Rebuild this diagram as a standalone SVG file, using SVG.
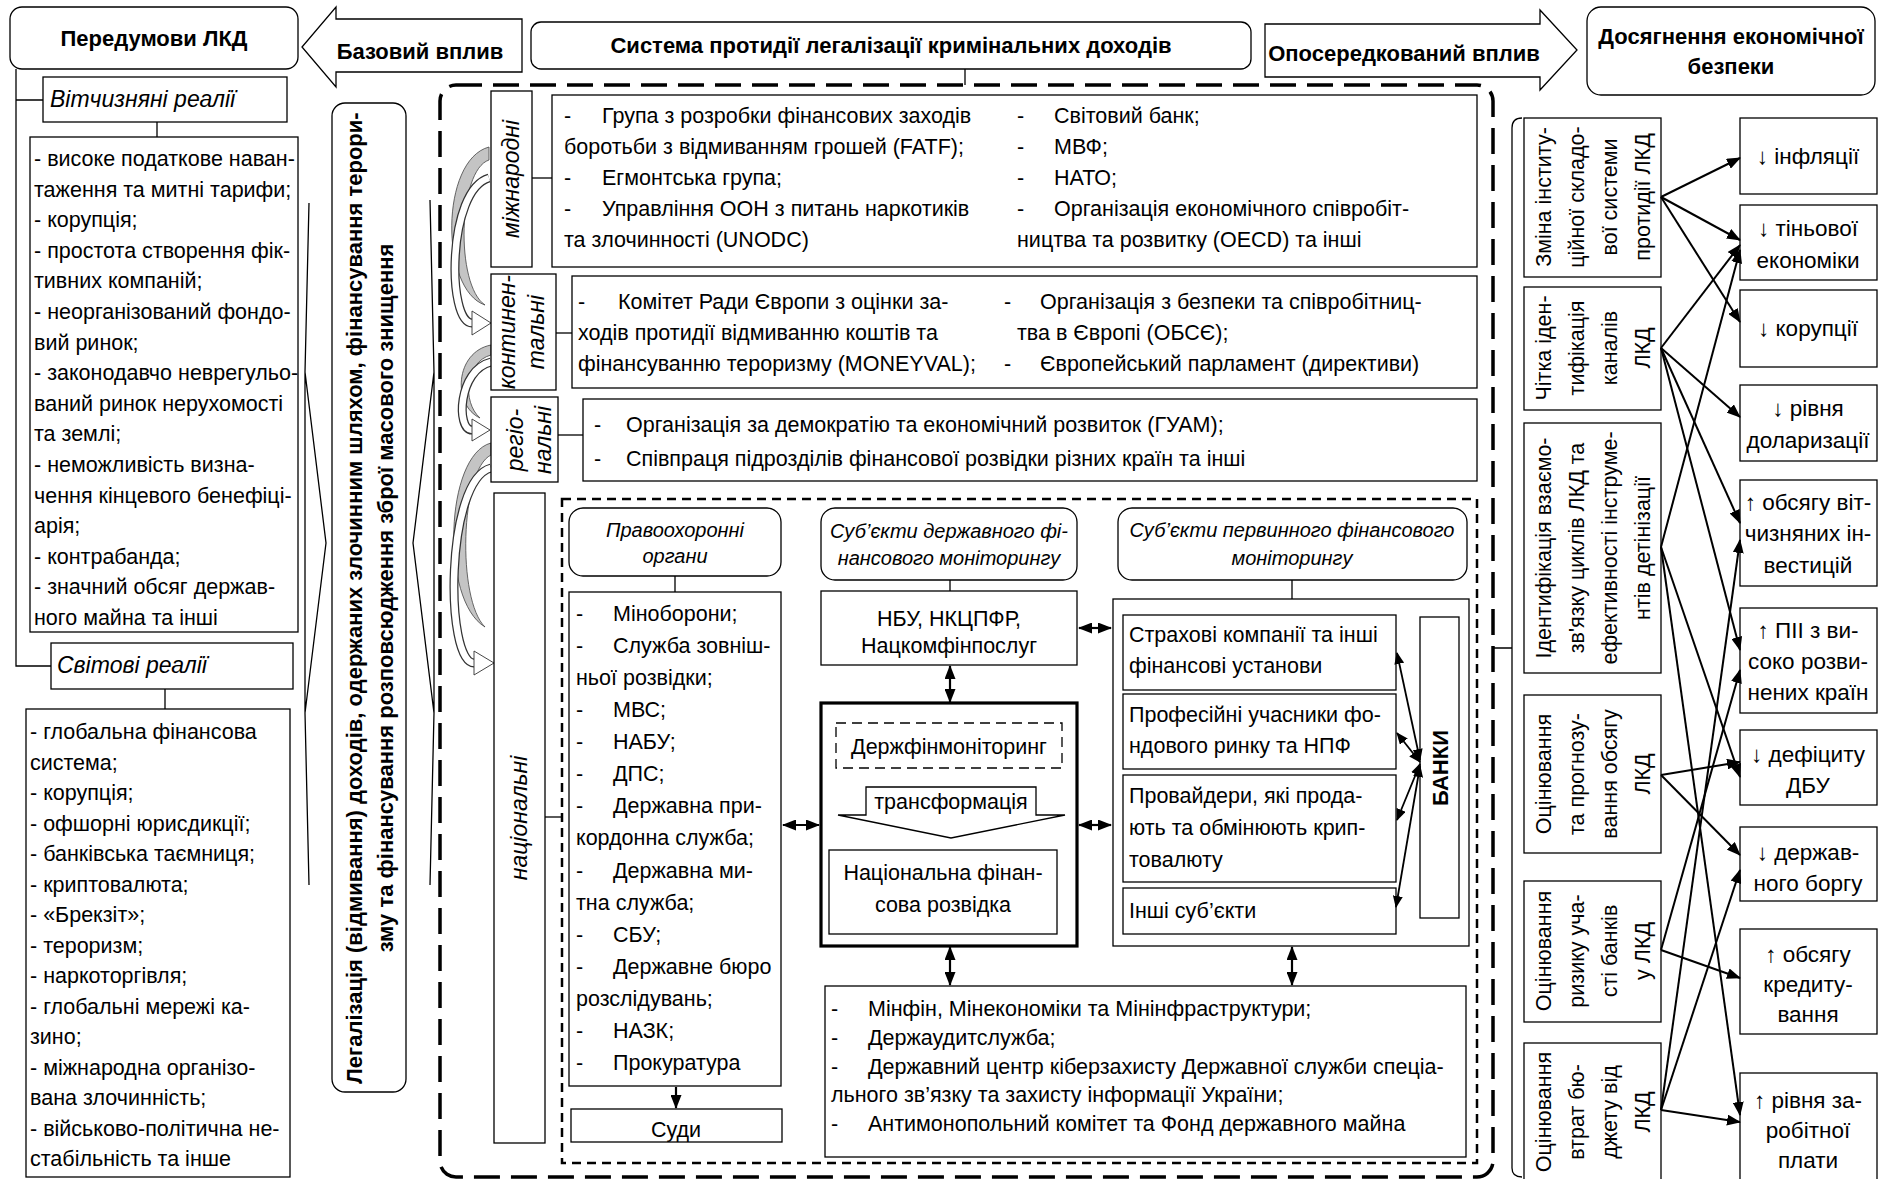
<svg xmlns="http://www.w3.org/2000/svg" width="1881" height="1179" viewBox="0 0 1881 1179">
<defs>
<style>
text{font-family:"Liberation Sans",Arial,sans-serif;font-size:21.5px;fill:#000}
.bd{font-weight:bold;font-size:22px}
.it{font-style:italic}
.c{text-anchor:middle}
.s20{font-size:20px}
.s23{font-size:23px}
.s22{font-size:22.5px}
.bx{fill:#fff;stroke:#000;stroke-width:1.3}
.bx3{fill:#fff;stroke:#000;stroke-width:3.2}
.ln{fill:none;stroke:#000;stroke-width:1.3}
.ar{fill:none;stroke:#000;stroke-width:2.2}
.da{fill:none;stroke:#000;stroke-width:2.5;stroke-dasharray:9 6}
.gr{fill:#c4c4c4;stroke:#444;stroke-width:0.8}
.wa{fill:#fff;stroke:#333;stroke-width:0.9}
</style>
<marker id="ah" viewBox="0 0 14 11" refX="13" refY="5.5" markerWidth="14" markerHeight="11" markerUnits="userSpaceOnUse" orient="auto-start-reverse"><path d="M0,0L14,5.5L0,11z"/></marker>
<marker id="ahs" viewBox="0 0 12 10" refX="11" refY="5" markerWidth="12" markerHeight="10" markerUnits="userSpaceOnUse" orient="auto-start-reverse"><path d="M0,0L12,5L0,10z"/></marker>
</defs>
<rect width="1881" height="1179" fill="#fff"/>

<g id="peredumovy">
<rect class="bx" x="10" y="7" width="288" height="62" rx="12"/>
<text class="bd c" x="154" y="46">Передумови ЛКД</text>
</g>
<g id="bazovyi-vplyv">
<path class="bx" d="M522,19 L336,19 L336,7 L302,47 L336,87 L336,72 L522,72 Z"/>
<text class="bd c" x="420" y="59">Базовий вплив</text>
</g>
<g id="systema">
<rect class="bx" x="531" y="22" width="720" height="47" rx="10"/>
<text class="bd c" x="891" y="53">Система протидії легалізації кримінальних доходів</text>
</g>
<g id="oposeredkovanyi-vplyv">
<path class="bx" d="M1265,24 L1540,24 L1540,10 L1577,50 L1540,90 L1540,77 L1265,77 Z"/>
<text class="bd c" x="1404" y="61">Опосередкований вплив</text>
</g>
<g id="dosiahnennia">
<rect class="bx" x="1587" y="7" width="288" height="88" rx="14"/>
<text class="bd c" x="1731" y="44">Досягнення економічної</text>
<text class="bd c" x="1731" y="74">безпеки</text>
</g>

<g id="left-tree">
<path class="ln" d="M16,69 L16,666 L51,666 M16,100 L43,100 M157,122 L157,137 M165,689 L165,709"/>
</g>
<g id="vitchyzniani">
<rect class="bx" x="43" y="77" width="244" height="45"/>
<text class="it s23" x="50" y="107">Вітчизняні реалії</text>
</g>
<g id="vitchyzniani-list">
<rect class="bx" x="30" y="137" width="268" height="495"/>
<text x="34" y="166">- високе податкове наван-</text>
<text x="34" y="196.6">таження та митні тарифи;</text>
<text x="34" y="227.2">- корупція;</text>
<text x="34" y="257.8">- простота створення фік-</text>
<text x="34" y="288.4">тивних компаній;</text>
<text x="34" y="319">- неорганізований фондо-</text>
<text x="34" y="349.6">вий ринок;</text>
<text x="34" y="380.2">- законодавчо неврегульо-</text>
<text x="34" y="410.8">ваний ринок нерухомості</text>
<text x="34" y="441.4">та землі;</text>
<text x="34" y="472">- неможливість визна-</text>
<text x="34" y="502.6">чення кінцевого бенефіці-</text>
<text x="34" y="533.2">арія;</text>
<text x="34" y="563.8">- контрабанда;</text>
<text x="34" y="594.4">- значний обсяг держав-</text>
<text x="34" y="625">ного майна та інші</text>
</g>
<g id="svitovi">
<rect class="bx" x="51" y="643" width="242" height="46"/>
<text class="it s23" x="57" y="673">Світові реалії</text>
</g>
<g id="svitovi-list">
<rect class="bx" x="26" y="709" width="264" height="468"/>
<text x="30" y="739">- глобальна фінансова</text>
<text x="30" y="769.5">система;</text>
<text x="30" y="800">- корупція;</text>
<text x="30" y="830.5">- офшорні юрисдикції;</text>
<text x="30" y="861">- банківська таємниця;</text>
<text x="30" y="891.5">- криптовалюта;</text>
<text x="30" y="922">- «Брекзіт»;</text>
<text x="30" y="952.5">- тероризм;</text>
<text x="30" y="983">- наркоторгівля;</text>
<text x="30" y="1013.5">- глобальні мережі ка-</text>
<text x="30" y="1044">зино;</text>
<text x="30" y="1074.5">- міжнародна організо-</text>
<text x="30" y="1105">вана злочинність;</text>
<text x="30" y="1135.5">- військово-політична не-</text>
<text x="30" y="1166">стабільність та інше</text>
</g>

<g id="legalizatsiia">
<path class="ln" d="M309,203 L305,372 L305,713 L309,885 M305,372 L326,543 L305,713"/>
<path class="ln" d="M430,200 L434,372 L434,713 L430,885 M434,372 L413,543 L434,713"/>
<rect class="bx" x="332" y="103" width="74" height="989" rx="13"/>
<text class="bd c" transform="translate(362,598) rotate(-90)">Легалізація (відмивання) доходів, одержаних злочинним шляхом, фінансування терори-</text>
<text class="bd c" transform="translate(393,598) rotate(-90)">зму та фінансування розповсюдження зброї масового знищення</text>
</g>

<g id="container">
<rect x="440" y="85" width="1053" height="1092" rx="16" fill="none" stroke="#000" stroke-width="3.5" stroke-dasharray="26 11"/>
<path class="ln" d="M965,69 L965,85"/>
</g>

<g id="curved-arrows">
<path class="gr" d="M489,147 C440,160 440,290 485,305 C455,285 458,170 489,160 Z"/>
<path d="M489,178 C447,190 447,323 472,323" fill="none" stroke="#333" stroke-width="9"/>
<path d="M489,178 C447,190 447,323 472,323" fill="none" stroke="#fff" stroke-width="6.5"/>
<path class="wa" d="M472,311 L491,323 L472,335 Z"/>
<path class="gr" d="M491,345 C455,352 452,405 480,418 C462,402 465,362 491,355 Z"/>
<path d="M491,362 C458,370 456,430 472,430" fill="none" stroke="#333" stroke-width="9"/>
<path d="M491,362 C458,370 456,430 472,430" fill="none" stroke="#fff" stroke-width="6.5"/>
<path class="wa" d="M472,419 L490,430 L472,441 Z"/>
<path class="gr" d="M491,443 C445,455 440,600 485,627 C457,600 460,470 491,455 Z"/>
<path d="M491,468 C445,480 445,663 474,663" fill="none" stroke="#333" stroke-width="9"/>
<path d="M491,468 C445,480 445,663 474,663" fill="none" stroke="#fff" stroke-width="6.5"/>
<path class="wa" d="M474,651 L494,663 L474,675 Z"/>
</g>

<g id="mizhnarodni">
<rect class="bx" x="491" y="91" width="41" height="176"/>
<text class="it s23 c" transform="translate(519,179) rotate(-90)">міжнародні</text>
<path class="ln" d="M532,178 L552,178"/>
</g>
<g id="mizhnarodni-items">
<rect class="bx" x="552" y="95" width="925" height="172"/>
<text x="564" y="123">-</text><text x="602" y="123">Група з розробки фінансових заходів</text>
<text x="564" y="154">боротьби з відмиванням грошей (FATF);</text>
<text x="564" y="185">-</text><text x="602" y="185">Егмонтська група;</text>
<text x="564" y="216">-</text><text x="602" y="216">Управління ООН з питань наркотиків</text>
<text x="564" y="247">та злочинності (UNODC)</text>
<text x="1017" y="123">-</text><text x="1054" y="123">Світовий банк;</text>
<text x="1017" y="154">-</text><text x="1054" y="154">МВФ;</text>
<text x="1017" y="185">-</text><text x="1054" y="185">НАТО;</text>
<text x="1017" y="216">-</text><text x="1054" y="216">Організація економічного співробіт-</text>
<text x="1017" y="247">ництва та розвитку (OECD) та інші</text>
</g>

<g id="kontynentalni">
<rect class="bx" x="491" y="274" width="65" height="116"/>
<text class="it s23 c" transform="translate(515,332) rotate(-90)">континен-</text>
<text class="it s23 c" transform="translate(544,332) rotate(-90)">тальні</text>
<path class="ln" d="M556,333 L572,333"/>
</g>
<g id="kontynentalni-items">
<rect class="bx" x="572" y="276" width="905" height="112"/>
<text x="578" y="309">-</text><text x="618" y="309">Комітет Ради Європи з оцінки за-</text>
<text x="578" y="340">ходів протидії відмиванню коштів та</text>
<text x="578" y="371">фінансуванню тероризму (MONEYVAL);</text>
<text x="1004" y="309">-</text><text x="1040" y="309">Організація з безпеки та співробітниц-</text>
<text x="1017" y="340">тва в Європі (ОБСЄ);</text>
<text x="1004" y="371">-</text><text x="1040" y="371">Європейський парламент (директиви)</text>
</g>

<g id="rehionalni">
<rect class="bx" x="491" y="397" width="67" height="85"/>
<text class="it s23 c" transform="translate(523,440) rotate(-90)">регіо-</text>
<text class="it s23 c" transform="translate(551,440) rotate(-90)">нальні</text>
<path class="ln" d="M558,435 L583,435"/>
</g>
<g id="rehionalni-items">
<rect class="bx" x="583" y="399" width="894" height="82"/>
<text x="594" y="432">-</text><text x="626" y="432">Організація за демократію та економічний розвиток (ГУАМ);</text>
<text x="594" y="466">-</text><text x="626" y="466">Співпраця підрозділів фінансової розвідки різних країн та інші</text>
</g>

<g id="natsionalni">
<rect class="bx" x="494" y="493" width="51" height="650"/>
<text class="it s23 c" transform="translate(527,818) rotate(-90)">національні</text>
<path class="ln" d="M545,817 L562,817"/>
</g>

<g id="national-area">
<rect class="da" x="562" y="499" width="915" height="664"/>
</g>

<g id="pravookhoronni">
<rect class="bx" x="569" y="508" width="212" height="68" rx="14"/>
<text class="it s20 c" x="675" y="537">Правоохоронні</text>
<text class="it s20 c" x="675" y="563">органи</text>
</g>
<g id="pravookhoronni-list">
<rect class="bx" x="569" y="592" width="212" height="494"/>
<text x="576" y="621">-</text><text x="613" y="621">Міноборони;</text>
<text x="576" y="653">-</text><text x="613" y="653">Служба зовніш-</text>
<text x="576" y="685">ньої розвідки;</text>
<text x="576" y="717">-</text><text x="613" y="717">МВС;</text>
<text x="576" y="749">-</text><text x="613" y="749">НАБУ;</text>
<text x="576" y="781">-</text><text x="613" y="781">ДПС;</text>
<text x="576" y="813">-</text><text x="613" y="813">Державна при-</text>
<text x="576" y="845">кордонна служба;</text>
<text x="576" y="878">-</text><text x="613" y="878">Державна ми-</text>
<text x="576" y="910">тна служба;</text>
<text x="576" y="942">-</text><text x="613" y="942">СБУ;</text>
<text x="576" y="974">-</text><text x="613" y="974">Державне бюро</text>
<text x="576" y="1006">розслідувань;</text>
<text x="576" y="1038">-</text><text x="613" y="1038">НАЗК;</text>
<text x="576" y="1070">-</text><text x="613" y="1070">Прокуратура</text>
</g>
<g id="sudy">
<rect class="bx" x="571" y="1109" width="211" height="33"/>
<text class="c" x="676" y="1137">Суди</text>
</g>

<g id="derzh-monitoring">
<rect class="bx" x="821" y="508" width="256" height="72" rx="14"/>
<text class="it s20 c" x="949" y="538">Суб’єкти державного фі-</text>
<text class="it s20 c" x="949" y="565">нансового моніторингу</text>
</g>
<g id="nbu">
<rect class="bx" x="821" y="591" width="256" height="74"/>
<text class="c" x="949" y="626">НБУ, НКЦПФР,</text>
<text class="c" x="949" y="653">Нацкомфінпослуг</text>
</g>
<g id="derzhfin-block">
<rect class="bx3" x="821" y="703" width="256" height="243"/>
<rect class="bx" x="836" y="723" width="226" height="45" stroke-width="2" stroke-dasharray="10 6"/>
<text class="c" x="949" y="754">Держфінмоніторинг</text>
<path class="bx" d="M866,787 L1036,787 L1036,815 L1065,815 L951,838 L838,815 L866,815 Z"/>
<text class="c" x="951" y="809">трансформація</text>
<rect class="bx" x="829" y="850" width="228" height="84" stroke-width="4"/>
<text class="c" x="943" y="880">Національна фінан-</text>
<text class="c" x="943" y="912">сова розвідка</text>
</g>
<g id="minfin">
<rect class="bx" x="825" y="986" width="641" height="171"/>
<text x="831" y="1016">-</text><text x="868" y="1016">Мінфін, Мінекономіки та Мінінфраструктури;</text>
<text x="831" y="1045">-</text><text x="868" y="1045">Держаудитслужба;</text>
<text x="831" y="1074">-</text><text x="868" y="1074">Державний центр кіберзахисту Державної служби спеціа-</text>
<text x="831" y="1102">льного зв’язку та захисту інформації України;</text>
<text x="831" y="1131">-</text><text x="868" y="1131">Антимонопольний комітет та Фонд державного майна</text>
</g>

<g id="pervynnyi">
<rect class="bx" x="1118" y="508" width="349" height="72" rx="14"/>
<text class="it s20 c" x="1292" y="537">Суб’єкти первинного фінансового</text>
<text class="it s20 c" x="1292" y="565">моніторингу</text>
</g>
<g id="pervynnyi-block">
<rect class="bx" x="1113" y="599" width="356" height="347"/>
<rect class="bx" x="1123" y="615" width="273" height="75"/>
<text x="1129" y="642">Страхові компанії та інші</text>
<text x="1129" y="673">фінансові установи</text>
<rect class="bx" x="1123" y="694" width="273" height="75"/>
<text x="1129" y="722">Професійні учасники фо-</text>
<text x="1129" y="753">ндового ринку та НПФ</text>
<rect class="bx" x="1123" y="775" width="273" height="107" stroke-width="3.5"/>
<text x="1129" y="803">Провайдери, які прода-</text>
<text x="1129" y="835">ють та обмінюють крип-</text>
<text x="1129" y="867">товалюту</text>
<rect class="bx" x="1123" y="888" width="273" height="46"/>
<text x="1129" y="918">Інші суб’єкти</text>
</g>
<g id="banky">
<rect class="bx" x="1420" y="617" width="39" height="301" stroke-width="3.5"/>
<text class="bd c" font-size="23px" transform="translate(1448,768) rotate(-90)">БАНКИ</text>
</g>

<g id="m1">
<rect class="bx" x="1524" y="118" width="137" height="159"/>
<text class="c" font-size="21px" transform="translate(1551,197) rotate(-90)">Зміна інститу-</text>
<text class="c" font-size="21px" transform="translate(1584,197) rotate(-90)">ційної складо-</text>
<text class="c" font-size="21px" transform="translate(1617,197) rotate(-90)">вої системи</text>
<text class="c" font-size="21px" transform="translate(1650,197) rotate(-90)">протидії ЛКД</text>
</g>
<g id="m2">
<rect class="bx" x="1524" y="287" width="137" height="123"/>
<text class="c" font-size="21px" transform="translate(1551,348) rotate(-90)">Чітка іден-</text>
<text class="c" font-size="21px" transform="translate(1584,348) rotate(-90)">тифікація</text>
<text class="c" font-size="21px" transform="translate(1617,348) rotate(-90)">каналів</text>
<text class="c" font-size="21px" transform="translate(1650,348) rotate(-90)">ЛКД</text>
</g>
<g id="m3">
<rect class="bx" x="1524" y="423" width="137" height="250"/>
<text class="c" font-size="21px" transform="translate(1551,548) rotate(-90)">Ідентифікація взаємо-</text>
<text class="c" font-size="21px" transform="translate(1584,548) rotate(-90)">зв'язку циклів ЛКД та</text>
<text class="c" font-size="21px" transform="translate(1617,548) rotate(-90)">ефективності інструме-</text>
<text class="c" font-size="21px" transform="translate(1650,548) rotate(-90)">нтів детінізації</text>
</g>
<g id="m4">
<rect class="bx" x="1524" y="695" width="137" height="158"/>
<text class="c" font-size="21px" transform="translate(1551,774) rotate(-90)">Оцінювання</text>
<text class="c" font-size="21px" transform="translate(1584,774) rotate(-90)">та прогнозу-</text>
<text class="c" font-size="21px" transform="translate(1617,774) rotate(-90)">вання обсягу</text>
<text class="c" font-size="21px" transform="translate(1650,774) rotate(-90)">ЛКД</text>
</g>
<g id="m5">
<rect class="bx" x="1524" y="881" width="137" height="141"/>
<text class="c" font-size="21px" transform="translate(1551,951) rotate(-90)">Оцінювання</text>
<text class="c" font-size="21px" transform="translate(1584,951) rotate(-90)">ризику уча-</text>
<text class="c" font-size="21px" transform="translate(1617,951) rotate(-90)">сті банків</text>
<text class="c" font-size="21px" transform="translate(1650,951) rotate(-90)">у ЛКД</text>
</g>
<g id="m6">
<rect class="bx" x="1524" y="1043" width="137" height="145"/>
<text class="c" font-size="21px" transform="translate(1551,1112) rotate(-90)">Оцінювання</text>
<text class="c" font-size="21px" transform="translate(1584,1112) rotate(-90)">втрат бю-</text>
<text class="c" font-size="21px" transform="translate(1617,1112) rotate(-90)">джету від</text>
<text class="c" font-size="21px" transform="translate(1650,1112) rotate(-90)">ЛКД</text>
</g>

<g id="o1"><rect class="bx" x="1740" y="118" width="137" height="76"/><text class="s22 c" x="1808" y="164">↓ інфляції</text></g>
<g id="o2"><rect class="bx" x="1740" y="205" width="137" height="75"/><text class="s22 c" x="1808" y="236">↓ тіньової</text><text class="s22 c" x="1808" y="268">економіки</text></g>
<g id="o3"><rect class="bx" x="1740" y="290" width="137" height="77"/><text class="s22 c" x="1808" y="336">↓ корупції</text></g>
<g id="o4"><rect class="bx" x="1740" y="385" width="137" height="76"/><text class="s22 c" x="1808" y="416">↓ рівня</text><text class="s22 c" x="1808" y="448">доларизації</text></g>
<g id="o5"><rect class="bx" x="1740" y="480" width="137" height="106"/><text class="s22 c" x="1808" y="510">↑ обсягу віт-</text><text class="s22 c" x="1808" y="541">чизняних ін-</text><text class="s22 c" x="1808" y="573">вестицій</text></g>
<g id="o6"><rect class="bx" x="1740" y="608" width="137" height="105"/><text class="s22 c" x="1808" y="638">↑ ПІІ з ви-</text><text class="s22 c" x="1808" y="669">соко розви-</text><text class="s22 c" x="1808" y="700">нених країн</text></g>
<g id="o7"><rect class="bx" x="1740" y="730" width="137" height="75"/><text class="s22 c" x="1808" y="762">↓ дефіциту</text><text class="s22 c" x="1808" y="793">ДБУ</text></g>
<g id="o8"><rect class="bx" x="1740" y="827" width="137" height="74"/><text class="s22 c" x="1808" y="860">↓ держав-</text><text class="s22 c" x="1808" y="891">ного боргу</text></g>
<g id="o9"><rect class="bx" x="1740" y="929" width="137" height="105"/><text class="s22 c" x="1808" y="962">↑ обсягу</text><text class="s22 c" x="1808" y="992">кредиту-</text><text class="s22 c" x="1808" y="1022">вання</text></g>
<g id="o10"><rect class="bx" x="1740" y="1073" width="137" height="115"/><text class="s22 c" x="1808" y="1108">↑ рівня за-</text><text class="s22 c" x="1808" y="1138">робітної</text><text class="s22 c" x="1808" y="1168">плати</text></g>

<g id="connectors">
<path class="ln" d="M1493,648 L1512,648 M1522,118 Q1512,118 1512,128 L1512,1168 Q1512,1177 1522,1177"/>
<path class="ln" d="M675,576 L675,592 M950,580 L950,591 M1292,580 L1292,599"/>
<g class="ar" marker-start="url(#ah)" marker-end="url(#ah)">
<path d="M950,666 L950,702"/>
<path d="M950,947 L950,985"/>
<path d="M1292,947 L1292,985"/>
<path d="M783,825 L819,825"/>
<path d="M1079,628 L1111,628"/>
<path d="M1079,825 L1111,825"/>
</g>
<path class="ar" marker-end="url(#ah)" d="M676,1087 L676,1108"/>
<g fill="none" stroke="#000" stroke-width="1.8" marker-start="url(#ahs)" marker-end="url(#ahs)">
<path d="M1420,760 L1397,653"/>
<path d="M1420,762 L1397,733"/>
<path d="M1420,764 L1397,820"/>
<path d="M1420,766 L1396,907"/>
</g>
<g fill="none" stroke="#000" stroke-width="2" marker-end="url(#ah)">
<path d="M1661,197 L1740,158"/>
<path d="M1661,197 L1740,240"/>
<path d="M1661,197 L1740,322"/>
<path d="M1661,348 L1740,245"/>
<path d="M1661,348 L1740,417"/>
<path d="M1661,348 L1740,523"/>
<path d="M1661,348 L1740,650"/>
<path d="M1661,547 L1740,250"/>
<path d="M1661,547 L1740,777"/>
<path d="M1661,547 L1740,1115"/>
<path d="M1661,775 L1740,762"/>
<path d="M1661,775 L1740,855"/>
<path d="M1661,950 L1740,978"/>
<path d="M1661,950 L1740,670"/>
<path d="M1661,1110 L1740,1122"/>
<path d="M1661,1110 L1740,870"/>
<path d="M1661,1110 L1740,540"/>
</g>
</g>
</svg>
